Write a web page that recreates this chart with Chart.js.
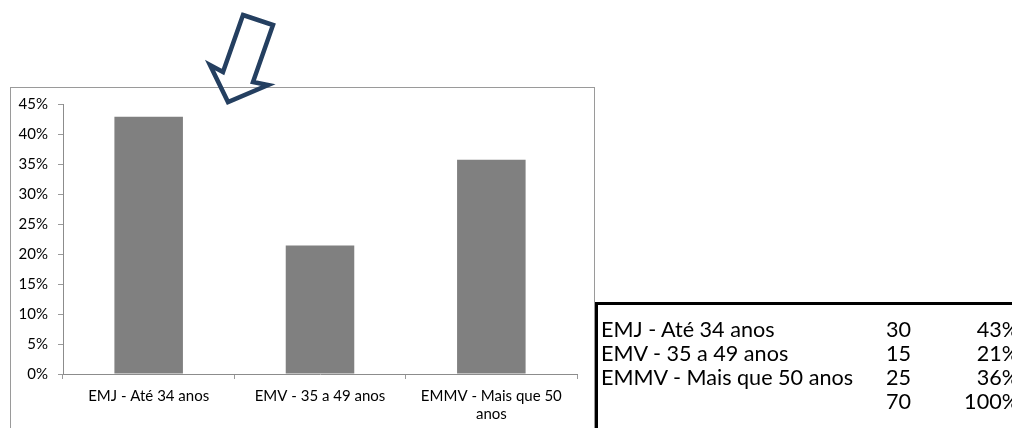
<!DOCTYPE html>
<html>
<head>
<meta charset="utf-8">
<script src="https://cdn.jsdelivr.net/npm/chart.js@4"></script>
<style>
  html, body { margin: 0; padding: 0; background: #fff; }
  body { width: 1012px; height: 428px; overflow: hidden; position: relative; font-family: Lato, "Noto Sans", sans-serif; }
  #frame { position: absolute; left: 10px; top: 87px; width: 583px; height: 400px; border: 1px solid #9a9a9a; }
  #wrap { position: absolute; left: 0; top: 0; width: 1012px; height: 428px; }
  #arrow { position: absolute; left: 0; top: 0; }
  #tbl { position: absolute; left: 595px; top: 302px; width: 440px; height: 200px; border-top: 3px solid #000; border-left: 3px solid #000; }
  #tbl .row { position: absolute; left: 0; height: 24px; line-height: 24px; font-size: 21.6px; color: #000; white-space: nowrap; }
  #tbl .lbl { position: absolute; left: 3px; }
  #tbl .num { position: absolute; right: -313px; text-align: right; }
  #tbl .pct { position: absolute; right: -421px; text-align: right; }
</style>
</head>
<body>
<div id="frame"></div>
<div id="wrap"><canvas id="chart" width="1012" height="428"></canvas></div>
<svg id="arrow" width="320" height="120">
  <polygon points="243,15 273,25 253,82 268,85 228,102 210,65 223,72"
           fill="none" stroke="#243f60" stroke-width="4.5" stroke-linejoin="miter"/>
</svg>
<div id="tbl"></div>

<script>
const categories = ["EMJ - Até 34 anos", "EMV - 35 a 49 anos", "EMMV - Mais que 50 anos"];
const counts = [30, 15, 25];
const total = 70;
const shares = [42.86, 21.43, 35.71];   // % shown by the bars
const shareLabels = ["43%", "21%", "36%"];
const totalLabel = "100%";
const yTicks = [0, 5, 10, 15, 20, 25, 30, 35, 40, 45];

// table on the right
const tbl = document.getElementById("tbl");
const rows = categories.map((c, i) => [c, counts[i], shareLabels[i]]);
rows.push(["", total, totalLabel]);
rows.forEach((r, i) => {
  const div = document.createElement("div");
  div.className = "row";
  div.style.top = (12 + i * 24) + "px";
  div.innerHTML = `<span class="lbl">${r[0]}</span><span class="num">${r[1]}</span><span class="pct">${r[2]}</span>`;
  tbl.appendChild(div);
});

function wrap(label, max) {
  const words = label.split(" ");
  const lines = [];
  let cur = "";
  words.forEach((w) => {
    const next = cur ? cur + " " + w : w;
    if (next.length > max && cur) {
      lines.push(cur);
      cur = w;
    } else {
      cur = next;
    }
  });
  lines.push(cur);
  return lines;
}

const ctx = document.getElementById("chart").getContext("2d");
new Chart(ctx, {
  type: "bar",
  data: {
    labels: categories,
    datasets: [
      {
        data: shares,
        backgroundColor: "#808080",
        borderWidth: 0,
        barPercentage: 0.4,
        categoryPercentage: 1.0,
      },
    ],
  },
  options: {
    responsive: false,
    animation: false,
    events: [],
    layout: { padding: { left: 10, right: 435, top: 104, bottom: 0 } },
    plugins: { legend: { display: false }, tooltip: { enabled: false } },
    scales: {
      x: {
        grid: { display: true, drawOnChartArea: false, drawTicks: true, tickLength: 5, color: "#9a9a9a", offset: true },
        border: { color: "#8c8c8c", width: 1 },
        ticks: {
          color: "#000",
          font: { family: "Lato", size: 15, lineHeight: 1.15 },
          padding: 9,
          maxRotation: 0,
          autoSkip: false,
          callback: function (v) {
            return wrap(this.getLabelForValue(v), 18);
          },
        },
        afterFit: (s) => { s.height = 54; },
      },
      y: {
        min: 0,
        max: 45,
        afterBuildTicks: (s) => { s.ticks = yTicks.map((v) => ({ value: v })); },
        grid: { display: true, drawOnChartArea: false, drawTicks: true, tickLength: 5, color: "#9a9a9a" },
        border: { color: "#8c8c8c", width: 1 },
        ticks: {
          color: "#000",
          font: { family: "Lato", size: 15 },
          padding: 10,
          callback: (v) => v + "%",
        },
        afterFit: (s) => { s.width = 53; },
      },
    },
  },
});
</script>
</body>
</html>
